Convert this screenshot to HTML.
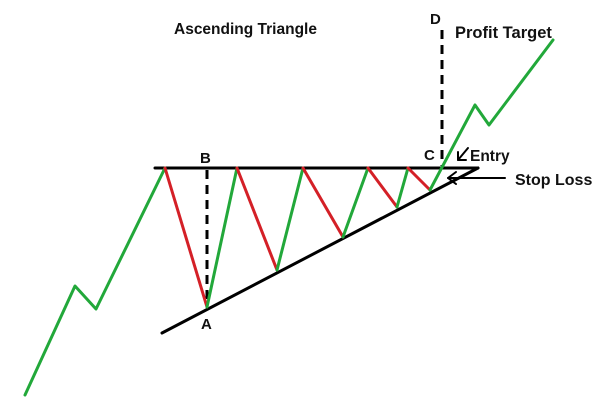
<!DOCTYPE html>
<html><head><style>
html,body{margin:0;padding:0;background:#fff;width:600px;height:410px;overflow:hidden}
svg text{font-family:"Liberation Sans",Arial,sans-serif;font-weight:bold;fill:#111}
</style></head><body>
<svg width="600" height="410" viewBox="0 0 600 410" xmlns="http://www.w3.org/2000/svg">
<g stroke-linecap="round" stroke-linejoin="round" fill="none" stroke-width="3">
<line x1="155" y1="168" x2="478" y2="168" stroke="#000"/>
<line x1="162" y1="333" x2="478" y2="168" stroke="#000"/>
<line x1="207" y1="170" x2="207" y2="305" stroke="#000" stroke-dasharray="9,6" stroke-linecap="butt"/>
<line x1="442" y1="30" x2="442" y2="166" stroke="#000" stroke-dasharray="9,6" stroke-linecap="butt"/>
<polyline points="25,395 75,286 96,309 165,168" stroke="#22a83a"/>
<polyline points="165,168 207,307" stroke="#d42027"/>
<polyline points="207,307 237,168" stroke="#22a83a"/>
<polyline points="237,168 277,270" stroke="#d42027"/>
<polyline points="277,270 303,168" stroke="#22a83a"/>
<polyline points="303,168 343,237" stroke="#d42027"/>
<polyline points="343,237 368,168" stroke="#22a83a"/>
<polyline points="368,168 397,207" stroke="#d42027"/>
<polyline points="397,207 408,168" stroke="#22a83a"/>
<polyline points="408,168 430,190" stroke="#d42027"/>
<polyline points="430,190 475,105 489,125 553,40" stroke="#22a83a"/>
<g stroke="#000" stroke-width="2">
<line x1="505" y1="178" x2="448" y2="178"/>
<polyline points="456,172 448,178 456,184"/>
<line x1="468" y1="148" x2="458" y2="160"/>
<polyline points="458,152 458,160 466,160"/>
</g>
</g>
<text x="174" y="34" font-size="15.5">Ascending Triangle</text>
<text x="430" y="24" font-size="15">D</text>
<text x="455" y="38" font-size="16.5">Profit Target</text>
<text x="200" y="163" font-size="15">B</text>
<text x="201" y="329" font-size="15">A</text>
<text x="424" y="160" font-size="15">C</text>
<text x="470" y="161" font-size="15.5">Entry</text>
<text x="515" y="185" font-size="16">Stop Loss</text>
</svg>
</body></html>
